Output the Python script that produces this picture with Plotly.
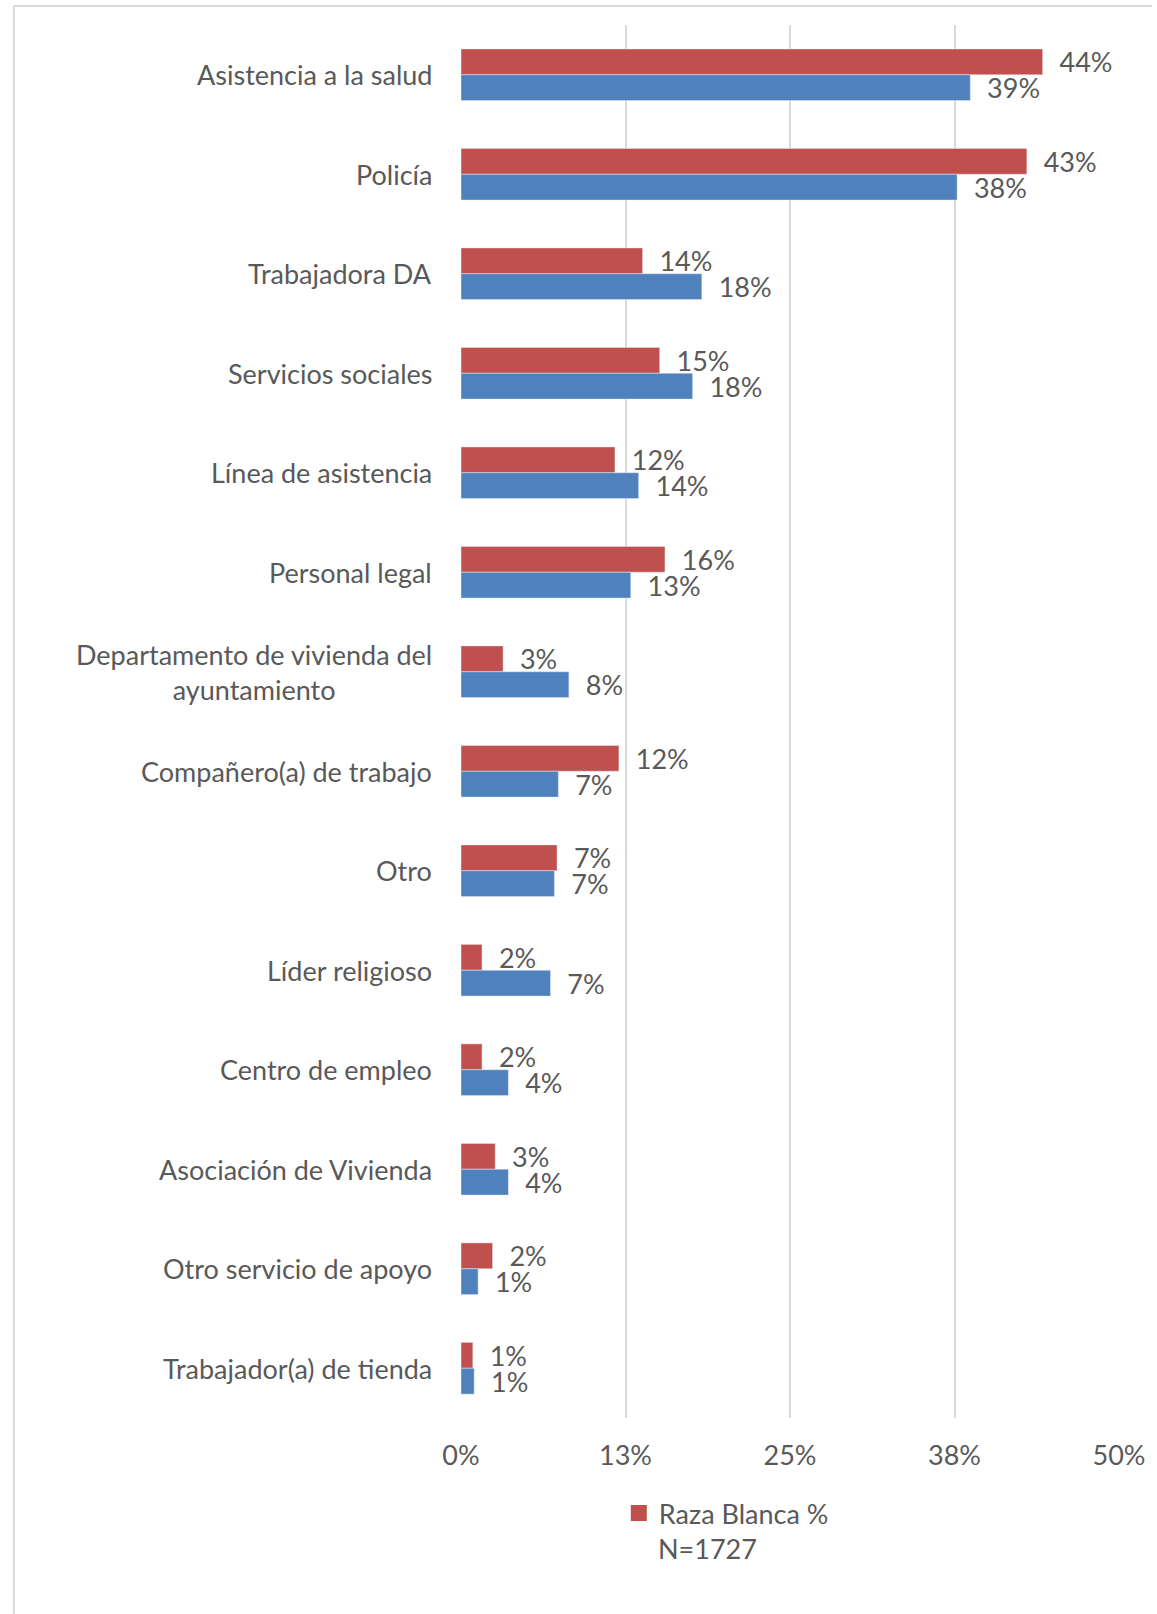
import plotly.graph_objects as go

categories = [
    "Asistencia a la salud",
    "Policía",
    "Trabajadora DA",
    "Servicios sociales",
    "Línea de asistencia",
    "Personal legal",
    "Departamento de vivienda del<br>ayuntamiento",
    "Compañero(a) de trabajo",
    "Otro",
    "Líder religioso",
    "Centro de empleo",
    "Asociación de Vivienda",
    "Otro servicio de apoyo",
    "Trabajador(a) de tienda",
]

# shares of respondents (fractions)
raza_blanca = [0.442, 0.430, 0.138, 0.151, 0.117, 0.155, 0.032, 0.120, 0.073, 0.016, 0.016, 0.026, 0.024, 0.009]
otra_serie = [0.387, 0.377, 0.183, 0.176, 0.135, 0.129, 0.082, 0.074, 0.071, 0.068, 0.036, 0.036, 0.013, 0.010]

tick_values = [0, 0.125, 0.25, 0.375, 0.5]
tick_labels = ["0%", "13%", "25%", "38%", "50%"]

legend_name = "Raza Blanca %"
legend_note = "N=1727"

RED = "#C0504D"
BLUE = "#4F81BD"
GREY_TEXT = "#595959"
GRID = "#D9D9D9"
FONT = "Lato"
FS = 27

W, H = 1157, 1614
ML, MR, MT, MB = 461, 33, 25, 196
PW, PH = W - ML - MR, H - MT - MB


def px_x(px):
    return (px - ML) / PW


def px_y(py):
    return 1 - (py - MT) / PH


fig = go.Figure()
fig.add_trace(go.Bar(
    y=categories, x=raza_blanca, orientation="h", name=legend_name,
    marker=dict(color=RED), texttemplate="\u00a0\u00a0%{x:.0%}",
    textposition="outside", cliponaxis=False, constraintext="none",
    showlegend=False,
    textfont=dict(family=FONT, size=FS, color=GREY_TEXT),
))
fig.add_trace(go.Bar(
    y=categories, x=otra_serie, orientation="h", name="",
    marker=dict(color=BLUE), texttemplate="\u00a0\u00a0%{x:.0%}",
    textposition="outside", cliponaxis=False, constraintext="none",
    showlegend=False,
    textfont=dict(family=FONT, size=FS, color=GREY_TEXT),
))
# legend key for the red series (larger square swatch)
fig.add_trace(go.Scatter(
    x=[None], y=[None], mode="markers", name=legend_name,
    marker=dict(symbol="square", size=16, color=RED), showlegend=True,
))

# category labels, centred lines, right edge just left of the plot
annotations = [
    dict(x=0, y=c, xref="paper", yref="y", text=c, showarrow=False,
         xanchor="right", align="center", xshift=-27,
         font=dict(family=FONT, size=FS, color=GREY_TEXT))
    for c in categories
]
annotations.append(dict(
    x=px_x(657), y=px_y(1548), xref="paper", yref="paper", text=legend_note,
    showarrow=False, xanchor="left", yanchor="middle",
    font=dict(family=FONT, size=FS, color=GREY_TEXT)))

shapes = [
    dict(type="line", xref="paper", yref="paper", x0=px_x(10.5), x1=px_x(W),
         y0=px_y(6), y1=px_y(6), line=dict(color=GRID, width=2)),
    dict(type="line", xref="paper", yref="paper", x0=px_x(10.5), x1=px_x(10.5),
         y0=px_y(6), y1=px_y(H), line=dict(color=GRID, width=2)),
]

fig.update_layout(
    width=W, height=H,
    margin=dict(l=ML, r=MR, t=MT, b=MB),
    paper_bgcolor="white", plot_bgcolor="white",
    barmode="group", bargap=0.48, bargroupgap=0,
    font=dict(family=FONT, size=FS, color=GREY_TEXT),
    xaxis=dict(range=[0, 0.5], tickvals=tick_values, ticktext=tick_labels,
               showgrid=True, gridcolor=GRID, gridwidth=2, zeroline=False,
               showline=False, ticks="", ticklabelstandoff=19,
               tickfont=dict(family=FONT, size=FS, color=GREY_TEXT)),
    yaxis=dict(autorange="reversed", showticklabels=False, showgrid=False,
               zeroline=False, showline=False, ticks=""),
    showlegend=True,
    legend=dict(x=px_x(620), y=px_y(1489), xanchor="left", yanchor="top",
                orientation="v", valign="top",
                font=dict(family=FONT, size=FS, color=GREY_TEXT),
                itemwidth=30, tracegroupgap=0),
    annotations=annotations,
    shapes=shapes,
)

fig.write_html("out.html")
